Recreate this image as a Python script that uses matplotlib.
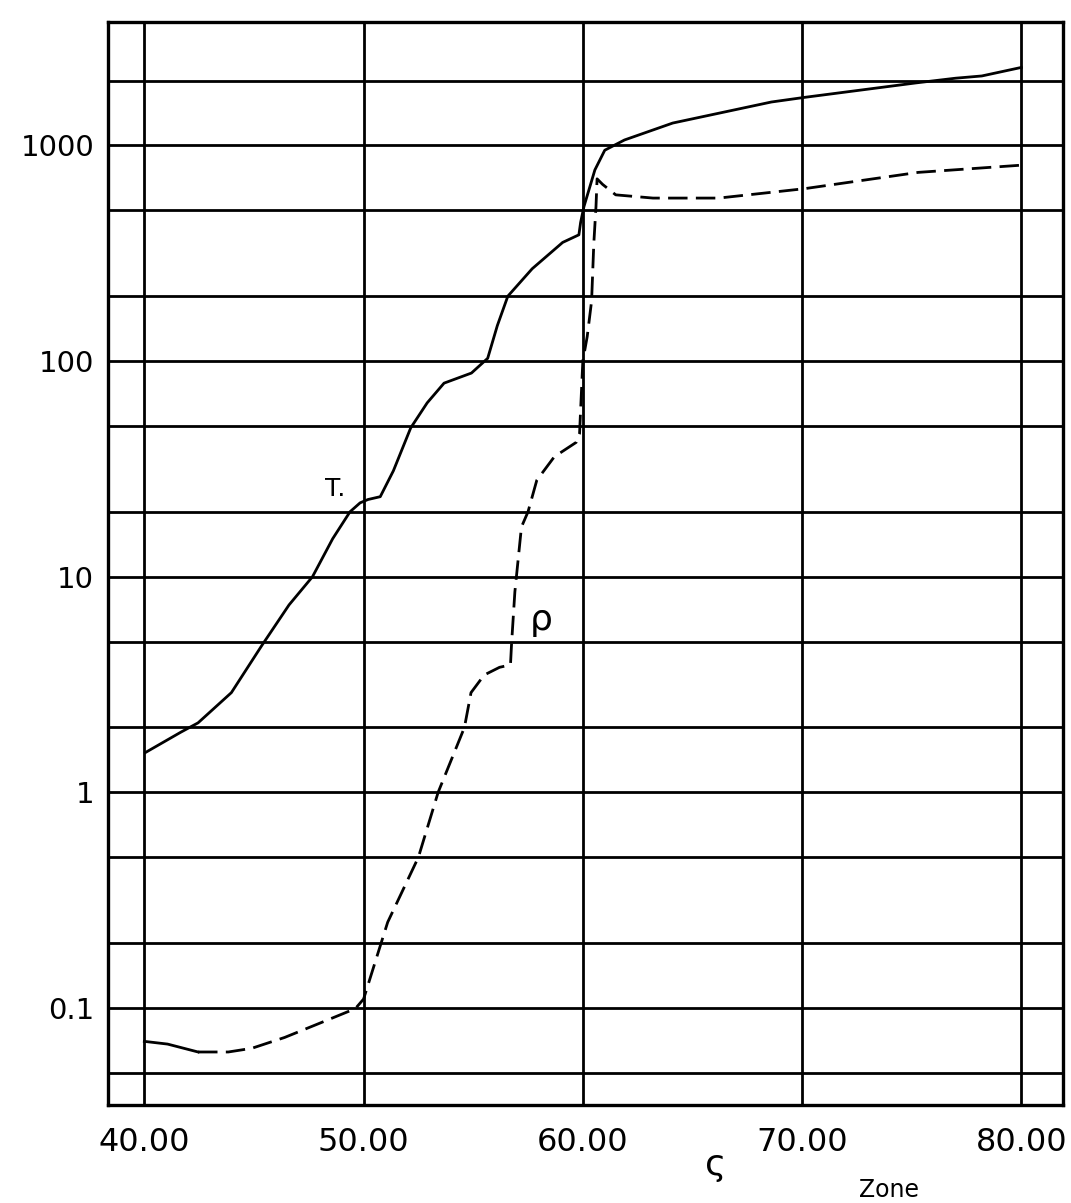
import matplotlib
matplotlib.use("Agg")
import matplotlib.pyplot as plt

# temperature T (solid)
t_zone = [40.05, 41.66, 42.45, 43.97, 45.36, 46.6, 47.67, 48.59, 49.38, 49.84,
          50.2, 50.76, 51.36, 52.15, 52.9, 53.67, 54.92, 55.66, 56.1, 56.58,
          57.69, 59.08, 59.82, 59.9, 60.05, 60.55, 61.0, 61.9, 64.1, 68.6,
          70.1, 75.2, 77.0, 78.2, 80.0]
t_val = [1.53, 1.9, 2.1, 2.9, 4.8, 7.4, 10, 15, 20, 22,
         22.8, 23.5, 31, 49, 64, 79, 88, 103, 146, 200,
         268, 355, 385, 440, 520, 770, 950, 1060, 1270, 1590,
         1670, 1950, 2050, 2100, 2300]

# density rho (dashed, solid at the very start)
rho_zone = [40.0, 41.06, 42.45, 43.83, 44.9, 46.4, 48.0, 49.38, 49.65, 50.0,
            50.8, 51.1, 52.5, 53.4, 54.6, 54.9, 55.5, 56.2, 56.7, 56.75,
            56.9, 57.2, 57.5, 57.9, 58.7, 59.7, 59.85, 60.0, 60.2, 60.4,
            60.5, 60.6, 60.65, 60.9, 61.5, 63.2, 66.2, 70.1, 75.3, 80.0]
rho_val = [0.070, 0.068, 0.0625, 0.0625, 0.065, 0.073, 0.085, 0.097, 0.1, 0.11,
           0.2, 0.25, 0.5, 1.0, 2.0, 2.9, 3.5, 3.8, 3.9, 4.9,
           8.5, 17, 20, 28, 36, 42, 46, 100, 130, 190,
           350, 520, 700, 660, 590, 570, 570, 630, 750, 810]

x_grid = [40, 50, 60, 70, 80]
x_labels = ["40.00", "50.00", "60.00", "70.00", "80.00"]
y_grid = [0.05, 0.1, 0.2, 0.5, 1, 2, 5, 10, 20, 50, 100, 200, 500, 1000, 2000]
y_ticks = [0.1, 1, 10, 100, 1000]
y_labels = ["0.1", "1", "10", "100", "1000"]


def main():
    fig = plt.figure(figsize=(10.71, 12.03), dpi=100)
    ax = fig.add_axes([0.101, 0.0815, 0.8915, 0.9005])
    ax.set_yscale("log")
    ax.set_xlim(38.35, 81.9)
    ax.set_ylim(0.0355, 3750)

    for x in x_grid:
        ax.axvline(x, color="black", lw=2.0, zorder=1)
    for y in y_grid:
        ax.axhline(y, color="black", lw=2.0, zorder=1)

    ax.plot(t_zone, t_val, color="black", lw=2.0, zorder=3)
    ax.plot(rho_zone[:3], rho_val[:3], color="black", lw=2.0, zorder=3)
    ax.plot(rho_zone[2:], rho_val[2:], color="black", lw=2.0,
            dashes=(7, 3), zorder=3)

    ax.text(48.7, 22.5, "T.", fontsize=18, ha="center", va="bottom")
    ax.text(58.1, 6.3, "ρ", fontsize=26, ha="center", va="center")

    ax.set_xticks(x_grid)
    ax.set_xticklabels(x_labels, fontsize=23)
    ax.set_yticks(y_ticks)
    ax.set_yticklabels(y_labels, fontsize=21)
    ax.minorticks_off()
    ax.tick_params(length=0)
    ax.tick_params(axis="x", pad=16)
    ax.tick_params(axis="y", pad=10)
    for s in ax.spines.values():
        s.set_linewidth(2.4)

    fig.text(0.668, 0.032, "ς", fontsize=26, ha="center", va="center")
    fig.text(0.83, 0.011, "Zone", fontsize=17, ha="center", va="center")

    fig.savefig("out.png", dpi=100, facecolor="white")


if __name__ == "__main__":
    main()
